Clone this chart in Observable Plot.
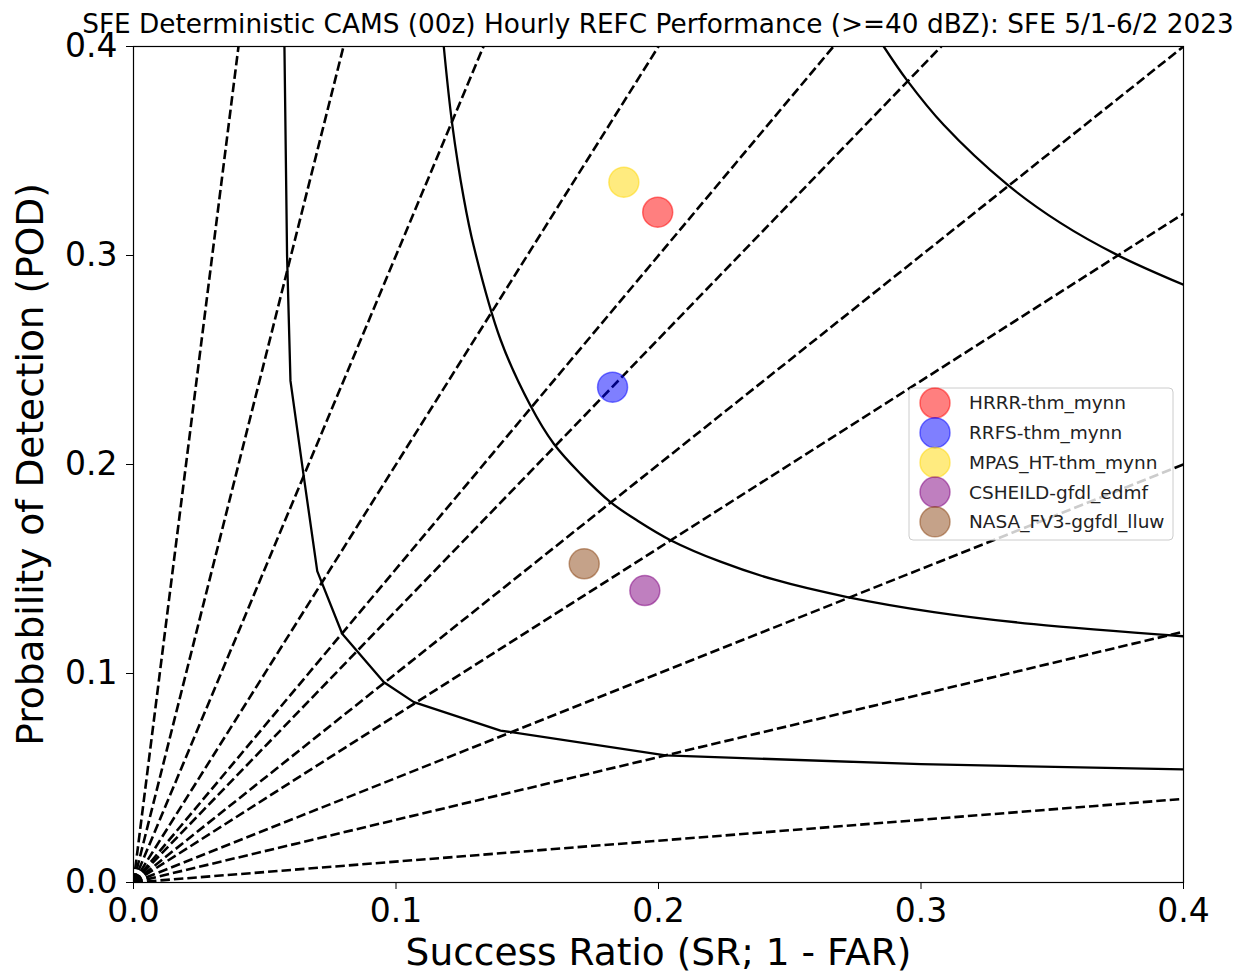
<!DOCTYPE html>
<html><head><meta charset="utf-8">
<script src="https://cdn.jsdelivr.net/npm/d3@7"></script>
<script src="https://cdn.jsdelivr.net/npm/@observablehq/plot@0.6"></script>
<style>
body{margin:0;background:#fff;}
#chart{width:1246px;height:972px;position:relative;}
</style>
</head><body><div id="chart"></div>
<script>
// ---- data ----
const titleText = "SFE Deterministic CAMS (00z) Hourly REFC Performance (>=40 dBZ): SFE 5/1-6/2 2023";
const xLabel = "Success Ratio (SR; 1 - FAR)";
const yLabel = "Probability of Detection (POD)";
const axisTicks = [0, 0.1, 0.2, 0.3, 0.4];

const models = ["HRRR-thm_mynn", "RRFS-thm_mynn", "MPAS_HT-thm_mynn", "CSHEILD-gfdl_edmf", "NASA_FV3-ggfdl_lluw"];
const successRatio = [0.1997, 0.1825, 0.1868, 0.1948, 0.1717];
const probDetection = [0.3207, 0.2370, 0.3351, 0.1397, 0.1525];
const modelColors = ["red", "blue", "gold", "purple", "saddlebrown"];

// frequency-bias reference lines (dashed)
const biasValues = [0.1, 0.3, 0.5, 0.8, 1, 1.3, 1.5, 2, 3, 5, 10];

// CSI contours (solid), vertices
const csi005SR  = [0.0575, 0.0585, 0.0598, 0.0649, 0.0700, 0.0795, 0.0954, 0.1068, 0.1398, 0.2027, 0.3000, 0.4000];
const csi005POD = [0.4000, 0.3000, 0.2400, 0.1940, 0.1490, 0.1190, 0.0958, 0.0863, 0.0727, 0.0608, 0.0566, 0.0541];
const csi010SR  = [0.1182, 0.1214, 0.1258, 0.1296, 0.1398, 0.1512, 0.1601, 0.1703, 0.1817, 0.1919, 0.2046, 0.2236, 0.2439, 0.2719, 0.3049, 0.3430, 0.4000];
const csi010POD = [0.4000, 0.3630, 0.3275, 0.3045, 0.2598, 0.2282, 0.2099, 0.1955, 0.1820, 0.1732, 0.1638, 0.1535, 0.1450, 0.1366, 0.1294, 0.1236, 0.1178];
const csi020SR  = [0.2858, 0.2947, 0.3087, 0.3328, 0.3531, 0.3747, 0.4000];
const csi020POD = [0.4000, 0.3838, 0.3624, 0.3340, 0.3156, 0.3003, 0.2860];

// ---- build tables ----
const points = models.map((m, i) => ({model: m, sr: successRatio[i], pod: probDetection[i], color: modelColors[i]}));
const toRows = (level, sr, pod) => sr.map((s, i) => ({level, sr: s, pod: pod[i]}));
const csi005 = toRows(0.05, csi005SR, csi005POD);
const csiSmooth = [...toRows(0.1, csi010SR, csi010POD), ...toRows(0.2, csi020SR, csi020POD)];

const fmt = d3.format(".1f");

const plot = Plot.plot({
  width: 1246, height: 972,
  marginLeft: 133, marginRight: 63, marginTop: 46, marginBottom: 90,
  style: {fontFamily: "DejaVu Sans", background: "white", color: "black"},
  x: {domain: [0, 0.4]},
  y: {domain: [0, 0.4]},
  color: {type: "identity"},
  marks: [
    Plot.link(biasValues, {x1: () => 0, y1: () => 0, x2: () => 1, y2: d => d,
      stroke: "black", strokeWidth: 2.6, strokeDasharray: "9.5,4", clip: true}),
    Plot.line(csi005, {x: "sr", y: "pod", stroke: "black", strokeWidth: 2.3, clip: true}),
    Plot.line(csiSmooth, {x: "sr", y: "pod", z: "level", curve: "catmull-rom", stroke: "black", strokeWidth: 2.3, clip: true}),
    Plot.dot(points, {x: "sr", y: "pod", r: 15, fill: "color", fillOpacity: 0.5,
      stroke: "color", strokeOpacity: 0.5, strokeWidth: 1.5}),
    Plot.frame({stroke: "black", strokeWidth: 1.2}),
    Plot.axisX({ticks: axisTicks, tickFormat: fmt, tickSize: 7, tickPadding: 9, fontSize: 33, label: null}),
    Plot.axisY({ticks: axisTicks, tickFormat: fmt, tickSize: 7, tickPadding: 9, fontSize: 33, label: null}),
    Plot.text([xLabel], {text: d => d, frameAnchor: "bottom", textAnchor: "middle", lineAnchor: "middle",
      dy: 70, fontSize: 37.5, fill: "black"}),
    Plot.text([yLabel], {text: d => d, frameAnchor: "left", textAnchor: "middle", lineAnchor: "middle",
      dx: -103, rotate: -90, fontSize: 37.5, fill: "black"})
  ]
});

document.getElementById("chart").appendChild(plot);

// ---- title ----
const svg = d3.select(plot);
const t = svg.append("text")
  .attr("x", 658).attr("y", 33)
  .attr("text-anchor", "middle")
  .attr("font-family", "DejaVu Sans")
  .attr("font-size", 22)
  .attr("fill", "black")
  .text(titleText);
const tw = t.node().getComputedTextLength();
if (tw > 0) t.attr("font-size", 22 * 1152 / tw);

// ---- legend ----
const lg = svg.append("g").attr("font-family", "DejaVu Sans").attr("text-anchor", "start");
lg.append("rect")
  .attr("x", 909).attr("y", 388).attr("width", 264).attr("height", 152)
  .attr("rx", 4).attr("fill", "white").attr("fill-opacity", 0.8)
  .attr("stroke", "#cccccc").attr("stroke-width", 1);
models.forEach((m, i) => {
  const cy = 403 + 29.7 * i;
  lg.append("circle").attr("cx", 935).attr("cy", cy).attr("r", 15)
    .attr("fill", modelColors[i]).attr("fill-opacity", 0.5)
    .attr("stroke", modelColors[i]).attr("stroke-opacity", 0.5).attr("stroke-width", 1.5);
  lg.append("text").attr("x", 969).attr("y", cy).attr("dy", "0.35em")
    .attr("text-anchor", "start")
    .attr("font-size", 18.5).attr("fill", "#222").text(m);
});
</script>
</body></html>
